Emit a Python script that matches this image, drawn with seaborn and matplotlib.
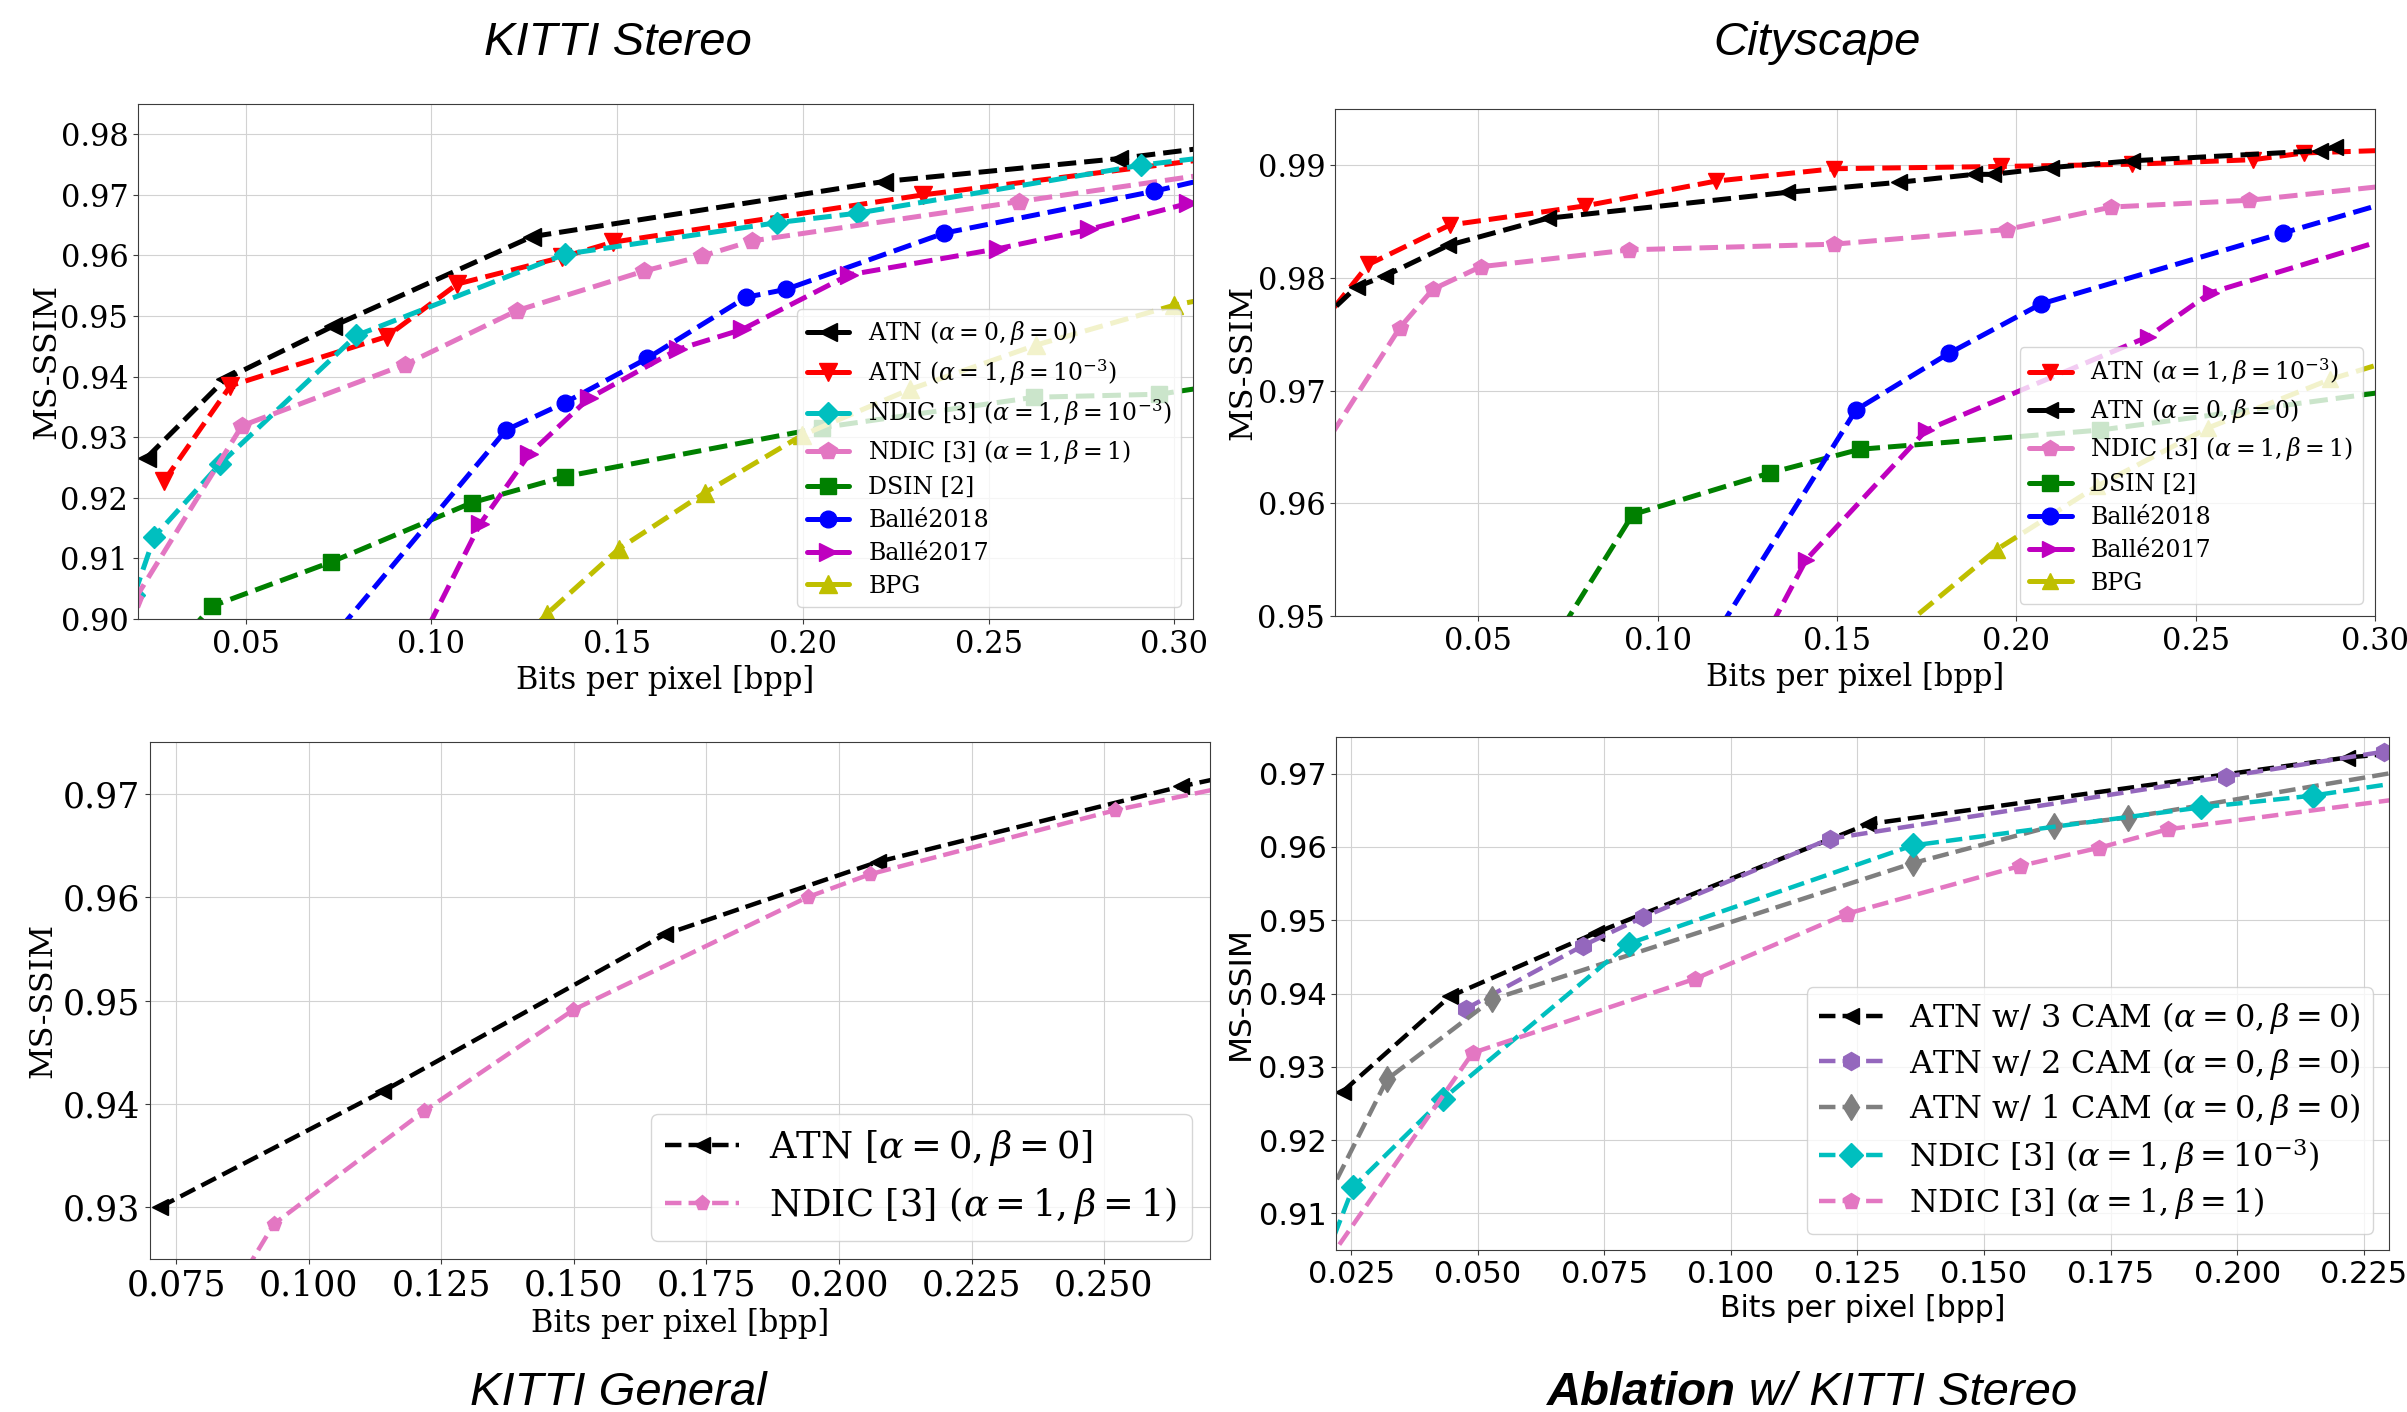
import matplotlib
matplotlib.use("Agg")
import matplotlib.pyplot as plt
import seaborn as sns
from matplotlib.ticker import FormatStrFormatter

# ---------------- data ----------------
# KITTI Stereo (also reused in the ablation panel)
ks_atn00_x = [0.0233, 0.0445, 0.0734, 0.1270, 0.2217, 0.2852, 0.3100]
ks_atn00_y = [0.9266, 0.9396, 0.9483, 0.9631, 0.9722, 0.9760, 0.9779]
ks_atn11_x = [0.0279, 0.0459, 0.0879, 0.1070, 0.1351, 0.1489, 0.2323, 0.3100]
ks_atn11_y = [0.9227, 0.9385, 0.9466, 0.9553, 0.9597, 0.9622, 0.9700, 0.9760]
ks_ndic3_x = [0.0200, 0.0254, 0.0431, 0.0798, 0.1359, 0.1929, 0.2149, 0.2910, 0.3100]
ks_ndic3_y = [0.9040, 0.9136, 0.9256, 0.9468, 0.9602, 0.9654, 0.9670, 0.9749, 0.9763]
ks_ndic1_x = [0.0200, 0.0490, 0.0929, 0.1230, 0.1571, 0.1728, 0.1863, 0.2582, 0.3100]
ks_ndic1_y = [0.9031, 0.9319, 0.9420, 0.9509, 0.9574, 0.9599, 0.9624, 0.9689, 0.9735]
ks_dsin_x = [0.0350, 0.0408, 0.0730, 0.1109, 0.1359, 0.2052, 0.2623, 0.2959, 0.3100]
ks_dsin_y = [0.8980, 0.9021, 0.9094, 0.9192, 0.9235, 0.9316, 0.9366, 0.9371, 0.9384]
ks_b18_x = [0.0707, 0.1201, 0.1359, 0.1580, 0.1847, 0.1954, 0.2381, 0.2945, 0.3100]
ks_b18_y = [0.8950, 0.9312, 0.9357, 0.9430, 0.9531, 0.9544, 0.9637, 0.9706, 0.9728]
ks_b17_x = [0.0961, 0.1130, 0.1263, 0.1423, 0.1663, 0.1837, 0.2124, 0.2524, 0.2770, 0.3037]
ks_b17_y = [0.8950, 0.9156, 0.9272, 0.9364, 0.9445, 0.9478, 0.9568, 0.9611, 0.9643, 0.9686]
ks_bpg_x = [0.1223, 0.1310, 0.1505, 0.1735, 0.1997, 0.2288, 0.2627, 0.3000, 0.3100]
ks_bpg_y = [0.8950, 0.9008, 0.9116, 0.9208, 0.9303, 0.9379, 0.9452, 0.9518, 0.9530]

# Cityscape
cs_atn11_x = [0.0050, 0.0193, 0.0420, 0.0797, 0.1162, 0.1491, 0.1957, 0.2323, 0.2660, 0.2802, 0.3100]
cs_atn11_y = [0.9755, 0.9812, 0.9847, 0.9864, 0.9886, 0.9897, 0.9899, 0.9901, 0.9905, 0.9911, 0.9914]
cs_atn00_x = [0.0050, 0.0160, 0.0240, 0.0416, 0.0693, 0.1360, 0.1674, 0.1882, 0.1936, 0.2097, 0.2322, 0.2847, 0.2888]
cs_atn00_y = [0.9759, 0.9792, 0.9802, 0.9829, 0.9853, 0.9876, 0.9885, 0.9892, 0.9892, 0.9898, 0.9904, 0.9913, 0.9916]
cs_ndic1_x = [0.0050, 0.0281, 0.0373, 0.0506, 0.0921, 0.1491, 0.1973, 0.2265, 0.2650, 0.3100]
cs_ndic1_y = [0.9641, 0.9756, 0.9790, 0.9810, 0.9825, 0.9830, 0.9843, 0.9863, 0.9869, 0.9884]
cs_dsin_x = [0.0656, 0.0930, 0.1313, 0.1564, 0.2233, 0.3100]
cs_dsin_y = [0.9450, 0.9590, 0.9627, 0.9648, 0.9665, 0.9702]
cs_b18_x = [0.1096, 0.1553, 0.1811, 0.2069, 0.2744, 0.3100]
cs_b18_y = [0.9450, 0.9683, 0.9733, 0.9777, 0.9840, 0.9873]
cs_b17_x = [0.1247, 0.1414, 0.1749, 0.2368, 0.2542, 0.3100]
cs_b17_y = [0.9450, 0.9550, 0.9665, 0.9748, 0.9787, 0.9841]
cs_bpg_x = [0.1500, 0.1945, 0.2224, 0.2535, 0.2875, 0.3100]
cs_bpg_y = [0.9442, 0.9559, 0.9615, 0.9667, 0.9710, 0.9732]

# KITTI General
kg_atn_x = [0.0718, 0.1139, 0.1672, 0.2073, 0.2645, 0.2800]
kg_atn_y = [0.9300, 0.9412, 0.9564, 0.9634, 0.9707, 0.9724]
kg_ndic_x = [0.0835, 0.0934, 0.1217, 0.1499, 0.1941, 0.2058, 0.2521, 0.2800]
kg_ndic_y = [0.9200, 0.9284, 0.9393, 0.9491, 0.9600, 0.9622, 0.9684, 0.9714]

# Ablation (2 and 1 camera variants; 3 CAM / NDIC curves are the KITTI Stereo ones)
ab_cam2_x = [0.0476, 0.0707, 0.0826, 0.1195, 0.1978, 0.2290]
ab_cam2_y = [0.9379, 0.9465, 0.9504, 0.9611, 0.9696, 0.9730]
ab_cam1_x = [0.0180, 0.0321, 0.0529, 0.1360, 0.1639, 0.1785, 0.2400]
ab_cam1_y = [0.9089, 0.9283, 0.9392, 0.9578, 0.9629, 0.9640, 0.9712]

# tick values
top_xticks = [0.05, 0.10, 0.15, 0.20, 0.25, 0.30]
ks_yticks = [0.90, 0.91, 0.92, 0.93, 0.94, 0.95, 0.96, 0.97, 0.98]
cs_yticks = [0.95, 0.96, 0.97, 0.98, 0.99]
kg_xticks = [0.075, 0.100, 0.125, 0.150, 0.175, 0.200, 0.225, 0.250]
kg_yticks = [0.93, 0.94, 0.95, 0.96, 0.97]
ab_xticks = [0.025, 0.050, 0.075, 0.100, 0.125, 0.150, 0.175, 0.200, 0.225]
ab_yticks = [0.91, 0.92, 0.93, 0.94, 0.95, 0.96, 0.97]

L_ATN00 = r"ATN ($\alpha=0, \beta=0$)"
L_ATN11 = r"ATN ($\alpha=1, \beta=10^{-3}$)"
L_NDIC3 = r"NDIC [3] ($\alpha=1, \beta=10^{-3}$)"
L_NDIC1 = r"NDIC [3] ($\alpha=1, \beta=1$)"
PINK = "#e377c2"

# ---------------- style ----------------
W, H = 2407, 1412
sns.set_style("whitegrid", rc={
    "axes.edgecolor": "#3c3c3c", "axes.linewidth": 1.2,
    "grid.color": "#d2d2d2", "grid.linewidth": 1.3,
    "xtick.bottom": True, "ytick.left": True,
    "xtick.major.size": 4, "ytick.major.size": 4,
    "xtick.major.width": 1.1, "ytick.major.width": 1.1,
    "xtick.color": "#3c3c3c", "ytick.color": "#3c3c3c",
    "text.color": "black", "axes.labelcolor": "black",
})
plt.rcParams["font.family"] = ["DejaVu Serif"]
plt.rcParams["mathtext.fontset"] = "dejavuserif"
plt.rcParams["xtick.labelcolor"] = "black"
plt.rcParams["ytick.labelcolor"] = "black"

fig = plt.figure(figsize=(W / 100, H / 100), dpi=100)


def box(l, t, r, b):
    return fig.add_axes([l / W, 1 - b / H, (r - l) / W, (b - t) / H])


def curve(ax, x, y, color, marker, label, lw, ms):
    sns.lineplot(x=x, y=y, ax=ax, color=color, marker=marker, linestyle="--",
                 linewidth=lw, markersize=ms, markeredgecolor=color,
                 markeredgewidth=1, label=label, sort=False, estimator=None,
                 legend=False)


def finish(ax, xlim, ylim, xticks, yticks, xfmt, tick_fs, lab_fs, ylab_x,
           sans=False):
    ax.set_xlim(*xlim)
    ax.set_ylim(*ylim)
    ax.set_xticks(xticks)
    ax.set_yticks(yticks)
    ax.xaxis.set_major_formatter(FormatStrFormatter(xfmt))
    ax.yaxis.set_major_formatter(FormatStrFormatter("%.2f"))
    fam = "DejaVu Sans" if sans else "DejaVu Serif"
    ax.tick_params(labelsize=tick_fs, labelfontfamily=fam)
    ax.set_xlabel("Bits per pixel [bpp]", fontsize=lab_fs, family=fam)
    ax.set_ylabel("MS-SSIM", fontsize=lab_fs + 1, family=fam)
    ax.yaxis.set_label_coords(ylab_x, 0.5)
    for s in ax.spines.values():
        s.set_visible(True)


# ---- KITTI Stereo ----
ax1 = box(138, 104, 1193, 619)
curve(ax1, ks_atn00_x, ks_atn00_y, "k", "<", L_ATN00, 3.6, 13)
curve(ax1, ks_atn11_x, ks_atn11_y, "r", "v", L_ATN11, 3.6, 13)
curve(ax1, ks_ndic3_x, ks_ndic3_y, "c", "D", L_NDIC3, 3.6, 11)
curve(ax1, ks_ndic1_x, ks_ndic1_y, PINK, "p", L_NDIC1, 3.6, 13)
curve(ax1, ks_dsin_x, ks_dsin_y, "g", "s", "DSIN [2]", 3.6, 11)
curve(ax1, ks_b18_x, ks_b18_y, "b", "o", "Ballé2018", 3.6, 12)
curve(ax1, ks_b17_x, ks_b17_y, "m", ">", "Ballé2017", 3.6, 13)
curve(ax1, ks_bpg_x, ks_bpg_y, "y", "^", "BPG", 3.6, 13)
finish(ax1, (0.021, 0.305), (0.90, 0.985), top_xticks, ks_yticks, "%.2f",
       22, 22, -0.072)
leg = ax1.legend(loc="lower right", fontsize=17, handlelength=1.8,
                 labelspacing=0.42)
for h in leg.get_lines():
    h.set_linestyle("-")

# ---- Cityscape ----
ax2 = box(1335, 109, 2375, 616)
curve(ax2, cs_atn11_x, cs_atn11_y, "r", "v", L_ATN11, 3.6, 12)
curve(ax2, cs_atn00_x, cs_atn00_y, "k", "<", L_ATN00, 3.6, 12)
curve(ax2, cs_ndic1_x, cs_ndic1_y, PINK, "p", L_NDIC1, 3.6, 12)
curve(ax2, cs_dsin_x, cs_dsin_y, "g", "s", "DSIN [2]", 3.6, 11)
curve(ax2, cs_b18_x, cs_b18_y, "b", "o", "Ballé2018", 3.6, 12)
curve(ax2, cs_b17_x, cs_b17_y, "m", ">", "Ballé2017", 3.6, 12)
curve(ax2, cs_bpg_x, cs_bpg_y, "y", "^", "BPG", 3.6, 12)
finish(ax2, (0.01, 0.30), (0.95, 0.995), top_xticks, cs_yticks, "%.2f",
       22, 22, -0.074)
leg = ax2.legend(loc="lower right", fontsize=17, handlelength=1.8,
                 labelspacing=0.42)
for h in leg.get_lines():
    h.set_linestyle("-")

# ---- KITTI General ----
ax3 = box(150, 742, 1210, 1259)
curve(ax3, kg_atn_x, kg_atn_y, "k", "<", r"ATN [$\alpha=0, \beta=0$]", 3.2, 11)
curve(ax3, kg_ndic_x, kg_ndic_y, PINK, "p", L_NDIC1, 3.2, 11)
finish(ax3, (0.07, 0.27), (0.925, 0.975), kg_xticks, kg_yticks, "%.3f",
       25, 22, -0.086)
ax3.legend(loc="lower right", fontsize=26.5, labelspacing=0.45)

# ---- Ablation ----
ax4 = box(1336, 737, 2389, 1250)
curve(ax4, ks_atn00_x, ks_atn00_y, "k", "<", r"ATN w/ 3 CAM ($\alpha=0, \beta=0$)", 3.2, 12)
curve(ax4, ab_cam2_x, ab_cam2_y, "#9467bd", "h", r"ATN w/ 2 CAM ($\alpha=0, \beta=0$)", 3.2, 13)
curve(ax4, ab_cam1_x, ab_cam1_y, "#7f7f7f", "d", r"ATN w/ 1 CAM ($\alpha=0, \beta=0$)", 3.2, 13)
curve(ax4, ks_ndic3_x, ks_ndic3_y, "c", "D", L_NDIC3, 3.2, 12)
curve(ax4, ks_ndic1_x, ks_ndic1_y, PINK, "p", L_NDIC1, 3.2, 12)
finish(ax4, (0.022, 0.23), (0.905, 0.975), ab_xticks, ab_yticks, "%.3f",
       22, 21.5, -0.077, sans=True)
ax4.legend(loc="lower right", fontsize=23, labelspacing=0.3)

# ---- panel titles ----
tkw = dict(family="Liberation Sans", style="italic", fontsize=34, va="baseline")
fig.text(618 / W, 1 - 55 / H, "KITTI Stereo", ha="center", **tkw)
fig.text(1817 / W, 1 - 55 / H, "Cityscape", ha="center", **tkw)
fig.text(618 / W, 1 - 1405 / H, "KITTI General", ha="center", **tkw)
t_bold = fig.text(1547 / W, 1 - 1405 / H, "Ablation", ha="left",
                  weight="bold", **tkw)
fig.canvas.draw()
bb = t_bold.get_window_extent()
fig.text((bb.x1 + 13) / W, 1 - 1405 / H, "w/ KITTI Stereo", ha="left", **tkw)

fig.savefig("out.png", dpi=100)
